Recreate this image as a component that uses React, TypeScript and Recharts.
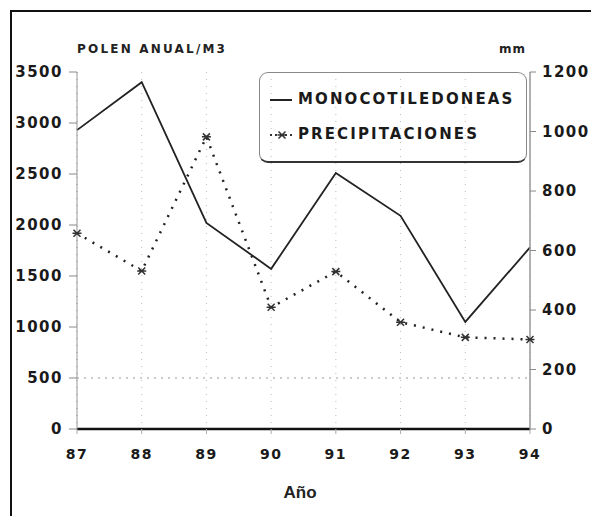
import React from "react";
import {
  LineChart,
  Line,
  XAxis,
  YAxis,
  CartesianGrid,
  ReferenceLine,
} from "recharts";

const years = ["87", "88", "89", "90", "91", "92", "93", "94"];
const monocotiledoneas = [2930, 3400, 2020, 1570, 2510, 2090, 1050, 1780];
const precipitaciones = [658, 531, 982, 409, 529, 359, 308, 301];
const polenTicks = [0, 500, 1000, 1500, 2000, 2500, 3000, 3500];
const mmTicks = [0, 200, 400, 600, 800, 1000, 1200];

const data = years.map((year, i) => ({
  year,
  mono: monocotiledoneas[i],
  prec: precipitaciones[i],
}));

const FONT = "'DejaVu Sans', sans-serif";
const tickStyle = {
  fill: "#1a1a1a",
  fontSize: 15,
  fontWeight: 700,
  fontFamily: FONT,
  letterSpacing: 1.5,
};

function CrossDot(props: any) {
  const { cx, cy, index } = props;
  if (cx == null || cy == null) return null;
  const s = 3.5;
  return (
    <path
      key={`d-${index}`}
      d={`M${cx - s},${cy - s}L${cx + s},${cy + s}M${cx + s},${cy - s}L${cx - s},${cy + s}M${cx - s - 1},${cy}L${cx + s + 1},${cy}`}
      stroke="#333"
      strokeWidth={1.5}
      fill="none"
    />
  );
}

function LegendBox() {
  const text = {
    fontFamily: FONT,
    fontWeight: 700,
    fontSize: 15,
    letterSpacing: 2.1,
    color: "#1a1a1a",
  };
  return (
    <div
      style={{
        position: "absolute",
        left: 259,
        top: 72,
        width: 268,
        height: 91,
        border: "1px solid #888",
        borderBottom: "2px solid #333",
        borderRadius: 9,
        boxSizing: "border-box",
      }}
    >
      <svg width={40} height={90} style={{ position: "absolute", left: 0, top: 0 }}>
        <line x1={10} y1={27} x2={32} y2={27} stroke="#222" strokeWidth={2} />
        <line x1={10} y1={62} x2={32} y2={62} stroke="#333" strokeWidth={2} strokeDasharray="2 3" />
        <CrossDot cx={22} cy={62} index={0} />
      </svg>
      <div style={{ ...text, position: "absolute", left: 38, top: 17 }}>MONOCOTILEDONEAS</div>
      <div style={{ ...text, position: "absolute", left: 38, top: 52 }}>PRECIPITACIONES</div>
    </div>
  );
}

export default function App() {
  return (
    <div style={{ position: "absolute", left: 0, top: 0, width: 591, height: 516, background: "#fff" }}>
      {/* scan shows only the top and left frame edges */}
      <div
        style={{
          position: "absolute",
          left: 10,
          top: 10,
          width: 581,
          height: 506,
          borderTop: "2px solid #111",
          borderLeft: "2px solid #111",
          boxSizing: "border-box",
        }}
      />
      <LineChart
        width={591}
        height={516}
        data={data}
        margin={{ top: 72, right: 11, bottom: 57, left: 17 }}
      >
        <CartesianGrid
          horizontal={false}
          vertical
          stroke="#bbb"
          strokeDasharray="1 6"
        />
        <ReferenceLine yAxisId="left" y={500} stroke="#999" strokeDasharray="2 5" />
        <XAxis
          dataKey="year"
          tick={{ ...tickStyle, fontSize: 14 }}
          tickLine={{ stroke: "#aaa" }}
          tickSize={5}
          tickMargin={15}
          axisLine={{ stroke: "#111", strokeWidth: 2.5 }}
          height={30}
        />
        <YAxis
          yAxisId="left"
          domain={[0, 3500]}
          ticks={polenTicks}
          width={60}
          tick={tickStyle}
          tickLine={{ stroke: "#888" }}
          tickSize={8}
          tickMargin={6}
          axisLine={{ stroke: "#999" }}
        />
        <YAxis
          yAxisId="right"
          orientation="right"
          domain={[0, 1200]}
          ticks={mmTicks}
          width={50}
          tick={{ ...tickStyle, textAnchor: "start" }}
          tickLine={{ stroke: "#888" }}
          tickSize={6}
          tickMargin={6}
          axisLine={{ stroke: "#999", strokeWidth: 1.5 }}
        />
        <Line
          yAxisId="left"
          type="linear"
          dataKey="mono"
          stroke="#222"
          strokeWidth={1.8}
          dot={false}
          isAnimationActive={false}
        />
        <Line
          yAxisId="right"
          type="linear"
          dataKey="prec"
          stroke="#222"
          strokeWidth={2.5}
          strokeDasharray="2 7"
          dot={(p: any) => <CrossDot {...p} key={`c-${p.index}`} />}
          isAnimationActive={false}
        />
        <text x={77} y={53} fontFamily={FONT} fontWeight={700} fontSize={12} letterSpacing={2.2} fill="#222">
          POLEN ANUAL/M3
        </text>
        <text x={499} y={53} fontFamily={FONT} fontWeight={700} fontSize={12} letterSpacing={1} fill="#222">
          mm
        </text>
        <text x={300} y={498} textAnchor="middle" fontFamily="'Liberation Sans', Arial, sans-serif" fontWeight={700} fontSize={17} fill="#222">
          Año
        </text>
      </LineChart>
      <LegendBox />
    </div>
  );
}
